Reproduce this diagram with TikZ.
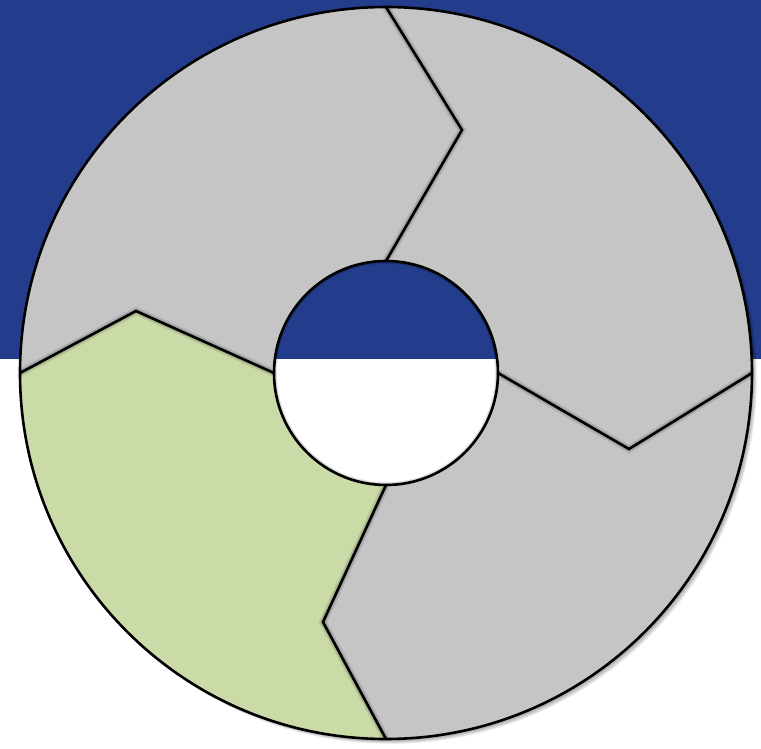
\documentclass[tikz,border=0pt]{standalone}
\usetikzlibrary{calc}
\definecolor{bandblue}{RGB}{35,61,140}
\definecolor{seggray}{RGB}{197,197,197}
\definecolor{seggreen}{RGB}{202,219,168}
\begin{document}
\begin{tikzpicture}[x=1pt,y=1pt,
  segment/.style={line join=miter},
  edge/.style={draw=black,line width=2.6pt,line join=miter},
  shadowstroke/.style={black,opacity=0.07}]
\useasboundingbox (-386,-375) rectangle (375,373);
\fill[white] (-386,-375) rectangle (375,373);
\fill[bandblue] (-386,14) rectangle (375,373);
% radii
\def\Ro{366}
\def\Ri{112}
% divider points
\coordinate (O) at (0,0);
\coordinate (tI) at (90:\Ri);  \coordinate (tK) at (76,243);   \coordinate (tO) at (90:\Ro);
\coordinate (rI) at (0:\Ri);   \coordinate (rK) at (243,-76);  \coordinate (rO) at (0:\Ro);
\coordinate (bI) at (270:\Ri); \coordinate (bK) at (-63,-249); \coordinate (bO) at (270:\Ro);
\coordinate (lI) at (180:\Ri); \coordinate (lK) at (-250,62);  \coordinate (lO) at (180:\Ro);
% soft outer shadow
\foreach \d in {1,2,3,4,5,6}{
  \fill[shadowstroke] (\d*0.8,-\d*0.8) circle (\Ro);
}
% top-right segment
\fill[seggray] (rI) -- (rK) -- (rO)
  arc[start angle=0,end angle=90,radius=\Ro] -- (tK) -- (tI)
  arc[start angle=90,end angle=0,radius=\Ri] -- cycle;
% top-left segment
\fill[seggray] (tI) -- (tK) -- (tO)
  arc[start angle=90,end angle=180,radius=\Ro] -- (lK) -- (lI)
  arc[start angle=180,end angle=90,radius=\Ri] -- cycle;
% bottom-left segment
\fill[seggreen] (lI) -- (lK) -- (lO)
  arc[start angle=180,end angle=270,radius=\Ro] -- (bK) -- (bI)
  arc[start angle=270,end angle=180,radius=\Ri] -- cycle;
% bottom-right segment
\fill[seggray] (bI) -- (bK) -- (bO)
  arc[start angle=270,end angle=360,radius=\Ro] -- (rK) -- (rI)
  arc[start angle=360,end angle=270,radius=\Ri] -- cycle;
% soft shadows of the dividers
\begin{scope}
  \clip (O) circle (\Ro);
  \foreach \d in {1,2,3}{
    \draw[black,opacity=0.07,line width=\d*2pt+2pt,line join=miter,shift={(2,-2)}]
      (tI) -- (tK) -- (tO) (rI) -- (rK) -- (rO) (bI) -- (bK) -- (bO) (lI) -- (lK) -- (lO);
  }
\end{scope}
% inner hole
\begin{scope}
  \clip (O) circle (\Ri);
  \fill[white] (-\Ri,-\Ri) rectangle (\Ri,\Ri);
  \fill[bandblue] (-\Ri,14) rectangle (\Ri,\Ri);
  \foreach \d in {1,2,3,4}{
    \draw[black,opacity=0.08,line width=\d*1.5pt,shift={(2,-2)}] (O) circle (\Ri);
  }
\end{scope}
% divider lines
\draw[edge] (tI) -- (tK) -- (tO);
\draw[edge] (rI) -- (rK) -- (rO);
\draw[edge] (bI) -- (bK) -- (bO);
\draw[edge] (lI) -- (lK) -- (lO);
\draw[edge] (O) circle (\Ri);
\draw[edge] (O) circle (\Ro);
\end{tikzpicture}
\end{document}
